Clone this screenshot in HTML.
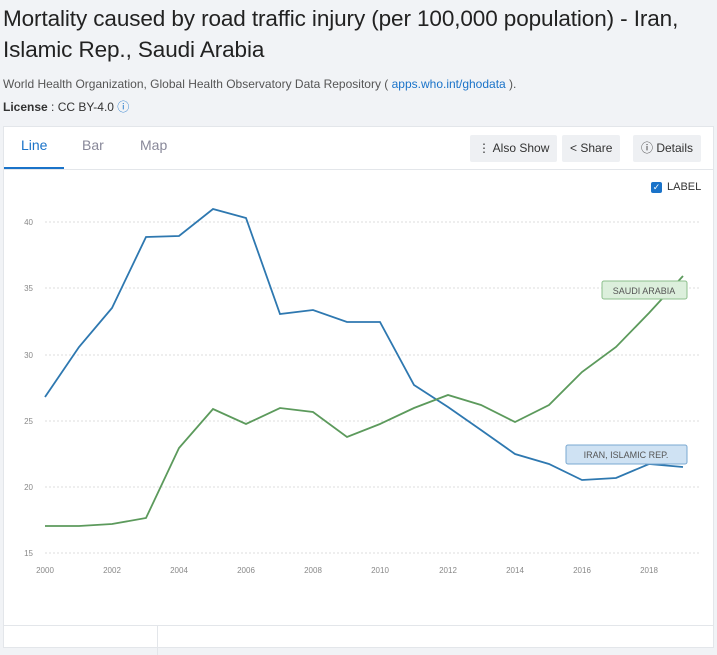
<!DOCTYPE html>
<html><head><meta charset="utf-8"><style>
body{margin:0;width:717px;height:633px;background:#f1f3f6;font-family:"Liberation Sans",sans-serif;overflow:hidden;position:relative}
.t{position:absolute;left:3px;top:3px;font-size:22.5px;line-height:31px;color:#222;letter-spacing:-0.1px}
.s{position:absolute;left:3px;top:77px;font-size:12px;color:#555}
.s a{color:#1a73c9}
.l{position:absolute;left:3px;top:98px;font-size:12px;color:#333}
.card{position:absolute;left:3px;top:126px;width:709px;height:520px;background:#fff;border:1px solid #e3e6ea}
.tab{position:absolute;top:10px;font-size:14px;color:#889}
.btn{position:absolute;top:8px;height:27px;background:#eef0f3;border-radius:2px;font-size:12px;color:#333;line-height:27px;padding:0 8px}
</style></head><body>
<div class="t">Mortality caused by road traffic injury (per 100,000 population) - Iran,<br>Islamic Rep., Saudi Arabia</div>
<div class="s">World Health Organization, Global Health Observatory Data Repository ( <a>apps.who.int/ghodata</a> ).</div>
<div class="l"><b>License</b> : CC BY-4.0 <span style="color:#1a73c9">ⓘ</span></div>
<div class="card">
<div class="tab" style="left:17px;color:#1a73c9">Line</div>
<div style="position:absolute;left:0;top:40px;width:60px;height:2px;background:#1a73c9"></div>
<div class="tab" style="left:78px">Bar</div>
<div class="tab" style="left:136px">Map</div>
<div style="position:absolute;left:0;top:42px;width:709px;height:1px;background:#e3e6ea"></div>
<div class="btn" style="left:466px">⋮ Also Show</div>
<div class="btn" style="left:558px">&lt; Share</div>
<div class="btn" style="left:629px">ⓘ Details</div>
<div style="position:absolute;left:647px;top:55px;width:11px;height:11px;background:#1a73c9;border-radius:2px;color:#fff;font-size:9px;line-height:11px;text-align:center">✓</div>
<div style="position:absolute;left:663px;top:54px;font-size:11px;color:#333">LABEL</div>
<div style="position:absolute;left:0;top:498px;width:709px;height:1px;background:#e3e6ea"></div>
<div style="position:absolute;left:153px;top:498px;width:1px;height:30px;background:#e3e6ea"></div>
</div>
<svg style="position:absolute;left:0;top:0" width="717" height="633" font-family="Liberation Sans" font-size="8" fill="#888">
<g stroke="#ddd" stroke-dasharray="2,2">
<line x1="45" x2="700" y1="222" y2="222"/><line x1="45" x2="700" y1="288" y2="288"/><line x1="45" x2="700" y1="355" y2="355"/><line x1="45" x2="700" y1="421" y2="421"/><line x1="45" x2="700" y1="487" y2="487"/><line x1="45" x2="700" y1="553" y2="553"/></g>
<g text-anchor="end"><text x="33" y="225">40</text><text x="33" y="291">35</text><text x="33" y="358">30</text><text x="33" y="424">25</text><text x="33" y="490">20</text><text x="33" y="556">15</text></g>
<g text-anchor="middle"><text x="45" y="573">2000</text><text x="112" y="573">2002</text><text x="179" y="573">2004</text><text x="246" y="573">2006</text><text x="313" y="573">2008</text><text x="380" y="573">2010</text><text x="448" y="573">2012</text><text x="515" y="573">2014</text><text x="582" y="573">2016</text><text x="649" y="573">2018</text></g>
<polyline fill="none" stroke="#2e78b0" stroke-width="1.8" points="45,397 79,347 112,308 146,237 179,236 213,209 246,218 280,314 313,310 347,322 380,322 414,385 448,407 481,430 515,454 549,464 582,480 616,478 649,464 683,467"/>
<polyline fill="none" stroke="#5c9a5c" stroke-width="1.8" points="45,526 79,526 112,524 146,518 179,448 213,409 246,424 280,408 313,412 347,437 380,424 414,408 448,395 481,405 515,422 549,405 582,372 616,347 649,313 683,276"/>
<rect x="602" y="281" width="85" height="18" rx="2" fill="#dcefdc" stroke="#8cbf8c"/>
<text x="644" y="294" text-anchor="middle" fill="#555" font-size="9">SAUDI ARABIA</text>
<rect x="566" y="445" width="121" height="19" rx="2" fill="#cfe2f3" stroke="#7aa8d0"/>
<text x="626" y="458" text-anchor="middle" fill="#555" font-size="9">IRAN, ISLAMIC REP.</text>
</svg>
</body></html>
